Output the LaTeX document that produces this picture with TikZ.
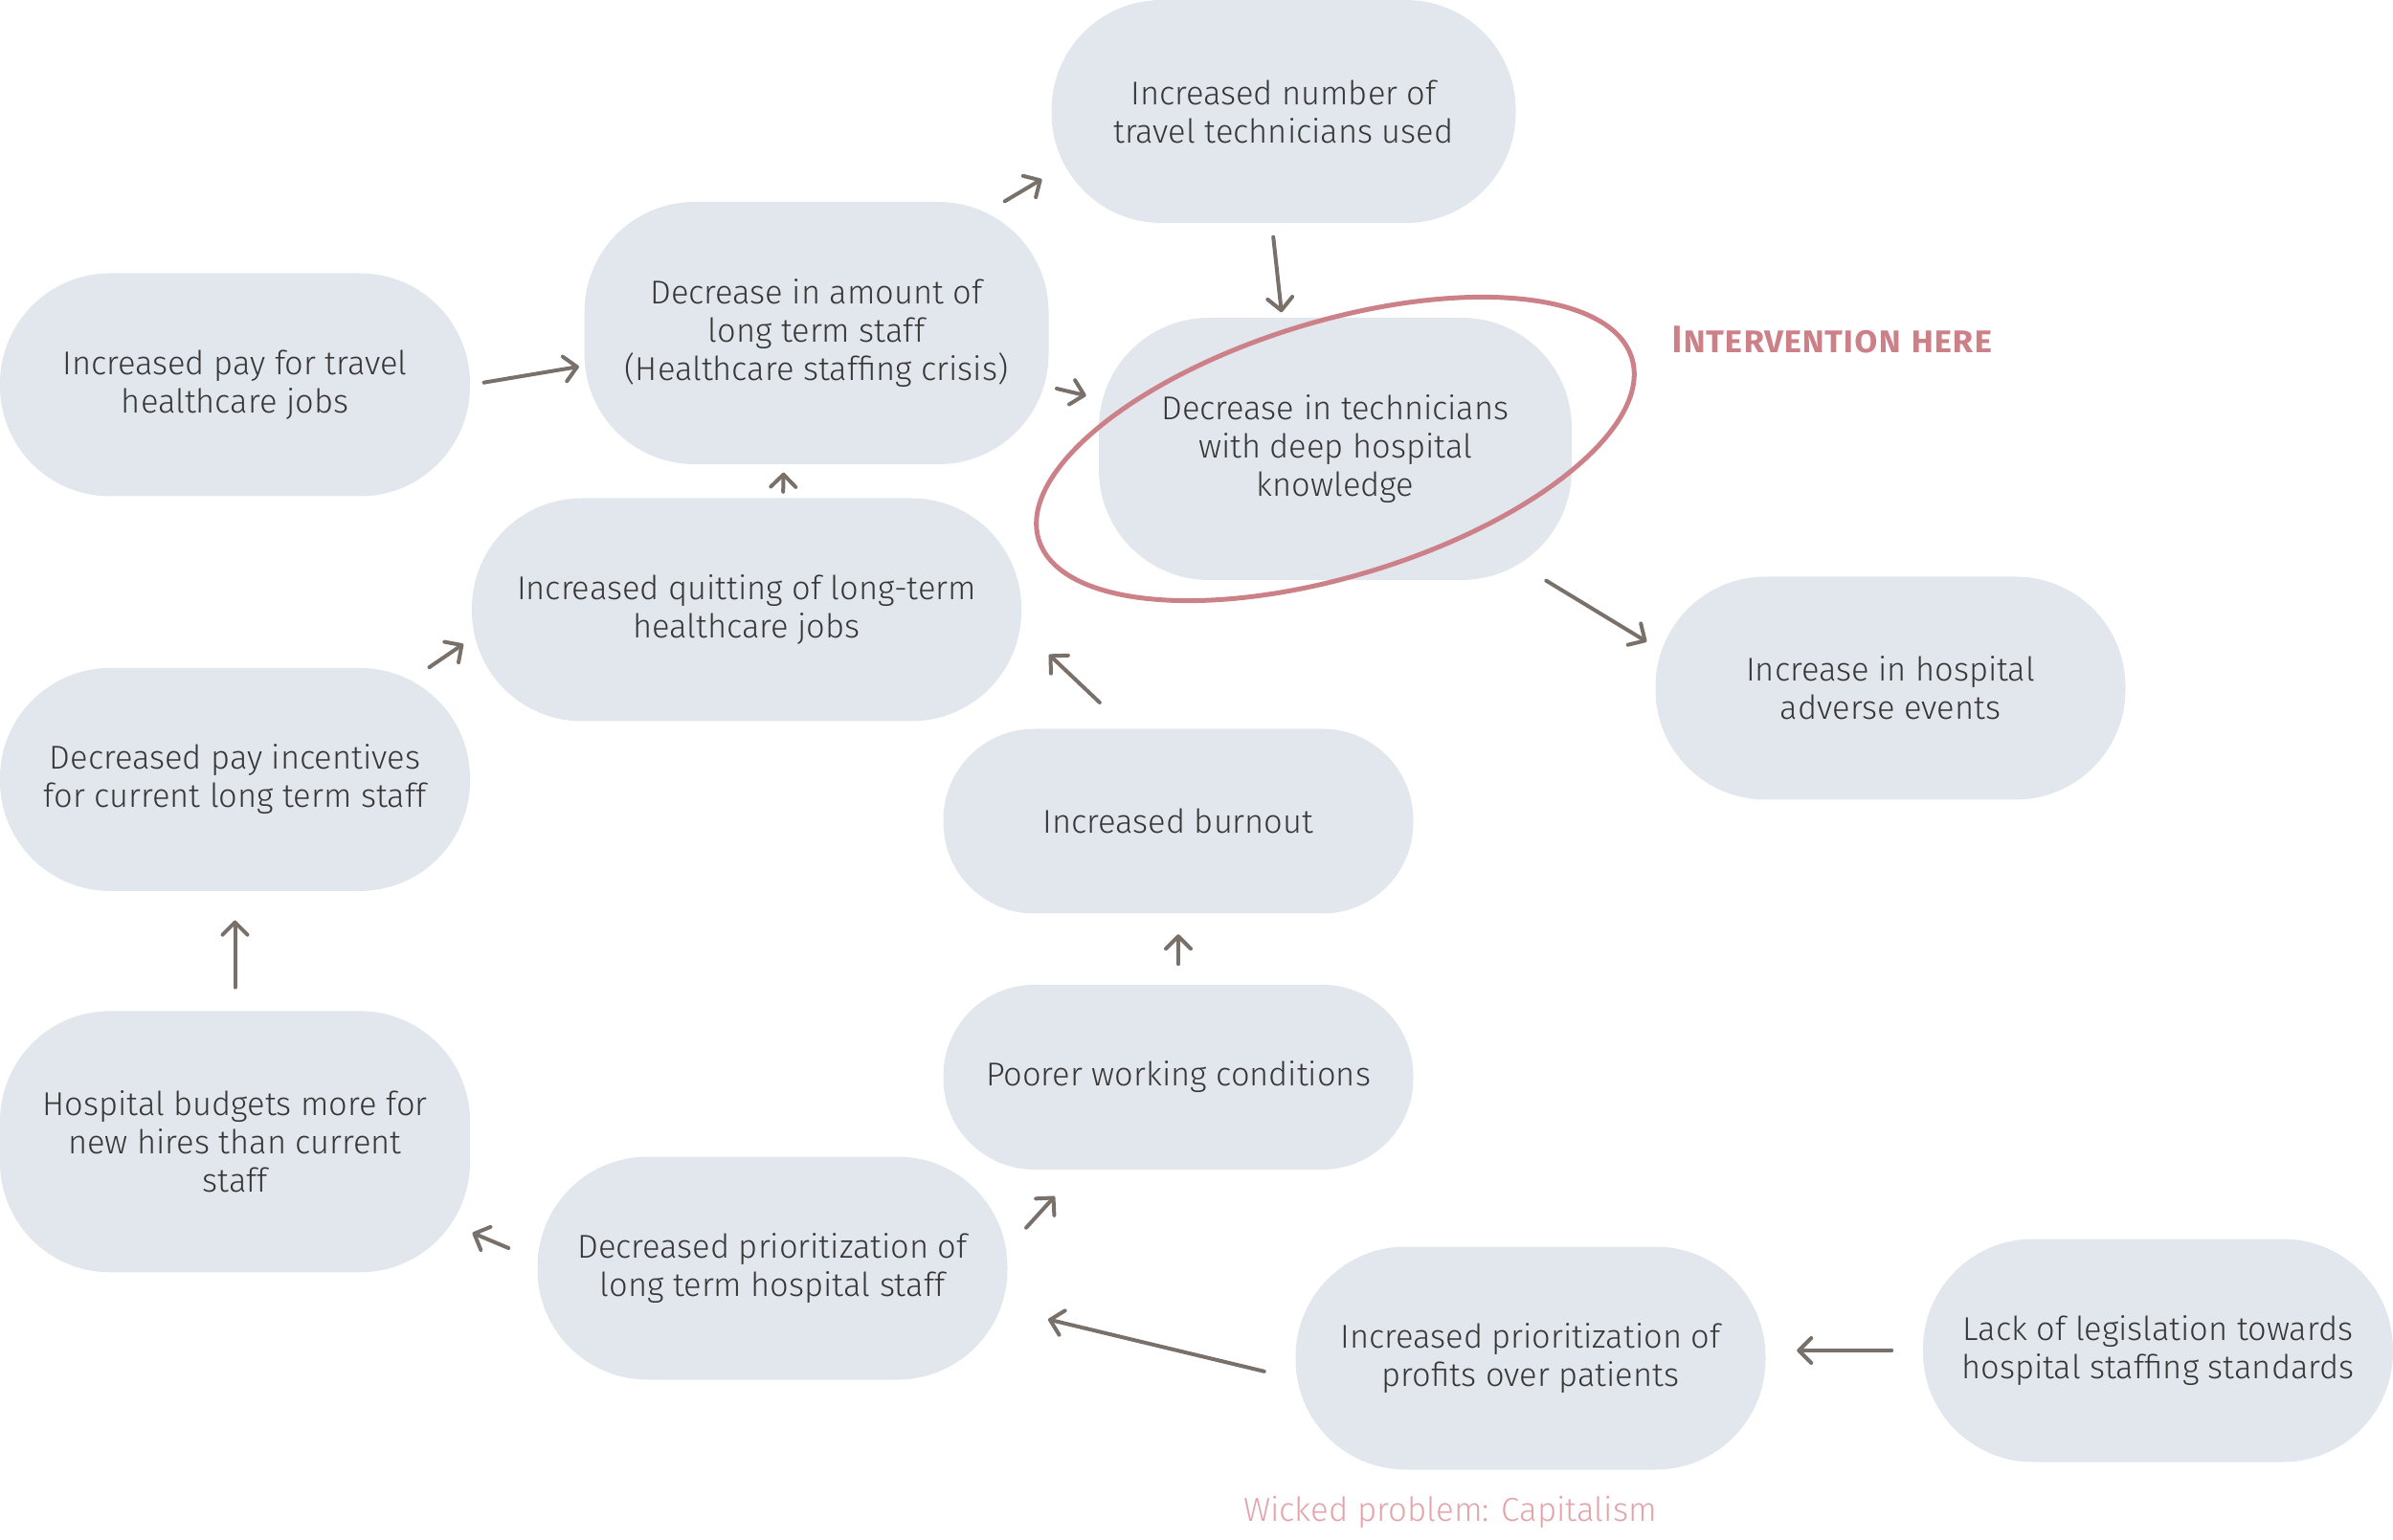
\documentclass[tikz,border=0pt]{standalone}
\usepackage{fontspec}
\setmainfont{Fira Sans Light}[BoldFont={Fira Sans SemiBold}]
\newfontfamily\tagfont{Fira Sans SemiBold}[Letters=SmallCaps]
\usetikzlibrary{positioning, arrows.meta}
\definecolor{cbfill}{HTML}{E2E7EE}
\definecolor{cbtext}{HTML}{363636}
\definecolor{cbarrow}{HTML}{7A706A}
\definecolor{cbpink}{HTML}{CC8189}
\definecolor{cblight}{HTML}{E3A4A9}

\begin{document}
\begin{tikzpicture}[
    bx/.style={fill=cbfill, text=cbtext, rounded corners=#1, minimum width=4.91cm, minimum height=2.33cm, inner sep=0pt, align=center, font=\fontsize{9.8}{11.4}\selectfont},
    bx/.default=1.15cm,
    ar/.style={-{Straight Barb[length=1.3mm,width=2.6mm,round]}, line width=0.04cm, cbarrow, line cap=round}]
  \useasboundingbox (0,0) rectangle (25,-16.09);
  \node[bx] (pay) at (2.455,-4.02) {Increased pay for travel\\healthcare jobs};
  \node[bx, below=1.78cm of pay] (inc) {Decreased pay incentives\\for current long term staff};
  \node[bx, minimum height=2.73cm, below=1.24cm of inc] (bud) {Hospital budgets more for\\new hires than current\\staff};
  \node[bx, minimum width=4.85cm, minimum height=2.74cm] (lt) at (8.53,-3.48) {Decrease in amount of\\long term staff\\(Healthcare staffing crisis)};
  \node[bx, minimum width=4.85cm] (trav) at (13.41,-1.165) {Increased number of\\travel technicians used};
  \node[bx, minimum width=4.94cm, minimum height=2.74cm] (tech) at (13.95,-4.69) {Decrease in technicians\\with deep hospital\\knowledge};
  \node[bx, minimum width=5.74cm] (quit) at (7.80,-6.37) {Increased quitting of long-term\\healthcare jobs};
  \node[bx] (adv) at (19.75,-7.19) {Increase in hospital\\adverse events};
  \node[bx=0.95cm, minimum height=1.93cm] (burn) at (12.31,-8.58) {Increased burnout};
  \node[bx=0.95cm, minimum height=1.93cm, below=0.73cm of burn] (poor) {Poorer working conditions};
  \node[bx] (dps) at (8.07,-13.25) {Decreased prioritization of\\long term hospital staff};
  \node[bx] (prof) at (15.99,-14.19) {Increased prioritization of\\profits over patients};
  \node[bx, right=1.63cm of prof, yshift=0.08cm] (leg) {Lack of legislation towards\\hospital staffing standards};
  \draw[cbpink, line width=0.05cm, rotate around={17:(tech.center)}] (tech.center) ellipse [x radius=3.24cm, y radius=1.33cm];
  \node[anchor=west, text=cbpink, inner sep=0pt, font=\tagfont\fontsize{11.4}{13}\selectfont] (tag) at (17.46,-3.55) {Intervention here};
  \node[text=cblight, inner sep=0pt, font=\fontsize{9.9}{11.7}\selectfont] (wick) at (15.15,-15.80) {Wicked problem: Capitalism};
  \draw[ar, shorten <=0.14cm, shorten >=0.05cm] (pay.east) -- (lt.188);
  \draw[ar, shorten >=0.11cm] (lt.35) -- (trav.195);
  \draw[ar, shorten <=0.14cm, shorten >=0.05cm] (trav.264) -- (tech.112);
  \draw[ar, shorten <=0.08cm, shorten >=0.13cm] (lt.347) -- (tech.168);
  \draw[ar, shorten <=0.06cm, shorten >=0.08cm] (quit.72) -- (lt.256);
  \draw[ar, shorten >=0.1cm] (inc.30) -- (quit.186);
  \draw[ar, shorten <=0.39cm, shorten >=0.39cm] (burn.119) -- (quit.356);
  \draw[ar, shorten >=0.1cm] (tech.328) -- (adv.170);
  \draw[ar, shorten <=0.24cm, shorten >=0.3cm] (bud.north) -- (inc.south);
  \draw[ar, shorten <=0.21cm, shorten >=0.21cm] (poor.north) -- (burn.south);
  \draw[ar, shorten <=0.32cm, shorten >=0.02cm] (dps.178) -- (bud.339);
  \draw[ar, shorten <=0.28cm, shorten >=0.37cm] (dps.5) -- (poor.223);
  \draw[ar, shorten <=0.33cm, shorten >=0.43cm] (prof.185) -- (dps.350);
  \draw[ar, shorten <=0.32cm, shorten >=0.32cm] (leg.west) -- (prof.east |- leg.west);
\end{tikzpicture}
\end{document}
